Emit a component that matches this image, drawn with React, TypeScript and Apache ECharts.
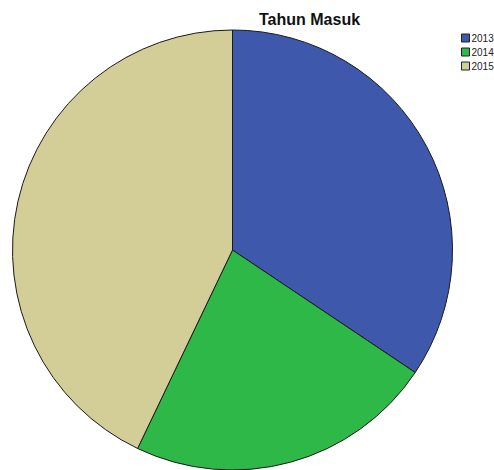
import React, { useEffect, useRef } from "react";
import * as echarts from "echarts";

const categories = ["2013", "2014", "2015"];
const values = [34.4, 22.7, 42.9];
const colors = ["#3E58AC", "#2EB848", "#D3CE97"];
const title = "Tahun Masuk";

export default function App() {
  const ref = useRef<HTMLDivElement>(null);
  useEffect(() => {
    document.body.style.margin = "0";
    const chart = echarts.init(ref.current!, null, { renderer: "svg" });
    chart.setOption({
      animation: false,
      backgroundColor: "#ffffff",
      title: {
        text: title,
        left: 254,
        top: 6,
        textStyle: {
          fontFamily: "Liberation Sans",
          fontSize: 16,
          fontWeight: "bold",
          color: "#111",
        },
      },
      legend: {
        orient: "vertical",
        left: 456,
        top: 28,
        itemWidth: 8,
        itemHeight: 8,
        itemGap: 4,
        icon: "rect",
        data: categories,
        itemStyle: { borderColor: "#222", borderWidth: 1 },
        textStyle: {
          fontFamily: "Liberation Sans",
          fontSize: 10,
          color: "#222",
          padding: [0, 0, 0, -3],
        },
      },
      series: [
        {
          type: "pie",
          center: [232.5, 250],
          radius: 220,
          startAngle: 90,
          clockwise: true,
          label: { show: false },
          labelLine: { show: false },
          emphasis: { disabled: true },
          itemStyle: { borderColor: "#1a1a1a", borderWidth: 1 },
          data: categories.map((c, i) => ({
            name: c,
            value: values[i],
            itemStyle: { color: colors[i] },
          })),
        },
      ],
    });
    return () => chart.dispose();
  }, []);
  return <div ref={ref} style={{ width: 494, height: 470 }} />;
}
